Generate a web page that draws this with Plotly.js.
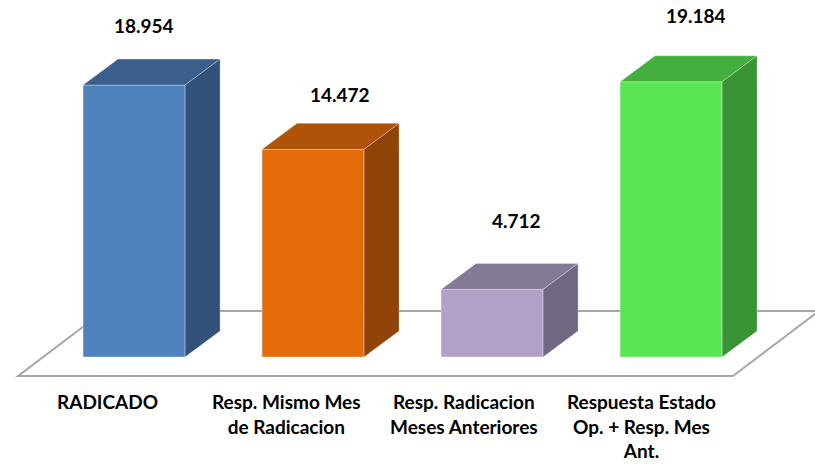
<!DOCTYPE html>
<html>
<head>
<meta charset="utf-8">
<script src="https://cdn.plot.ly/plotly-3.0.1.min.js"></script>
<style>
  html, body { margin: 0; padding: 0; background: #ffffff; }
  #chart { width: 815px; height: 464px; }
</style>
</head>
<body>
<div id="chart"></div>
<script>
// ---- data ----
const categories = ['RADICADO', 'Resp. Mismo Mes<br>de Radicacion', 'Resp. Radicacion<br>Meses Anteriores', 'Respuesta Estado<br>Op. + Resp. Mes<br>Ant.'];
const values = [18954, 14472, 4712, 19184];
const valueLabels = ['18.954', '14.472', '4.712', '19.184'];

// ---- styles ----
const frontColors = ['#4f81bd', '#e46c0a', '#b2a1c7', '#59e654'];
const topColors   = ['#3b5f8c', '#b05208', '#847a96', '#43b03d'];
const sideColors  = ['#335279', '#904407', '#716780', '#3a9434'];
const barWidth = 0.57;      // category units
const depthX = 0.1955;      // category units
const depthY = 1812;        // value units
const labelDx = [10, 27, 24, 25];     // px
const labelDy = [60, 55, 69, 66];     // px
const catDx = [-27, -27, -28, -30];   // px
const floor = { xFL: -0.648, xFR: 3.346, xBL: -0.168, xBR: 3.826, yF: -1324, yB: 3206 };

const xs = categories.map((c, i) => i);
const traces = [];

traces.push({
  type: 'bar', x: xs, y: values, width: barWidth,
  marker: { color: frontColors, line: { color: 'rgba(255,255,255,0.35)', width: 1 } },
  hoverinfo: 'skip'
});

xs.forEach((x, i) => {
  const v = values[i];
  const l = x - barWidth / 2, r = x + barWidth / 2;
  // top face
  traces.push({
    type: 'scatter', mode: 'lines', fill: 'toself',
    x: [l, r, r + depthX, l + depthX, l],
    y: [v, v, v + depthY, v + depthY, v],
    fillcolor: topColors[i], line: { color: 'rgba(255,255,255,0.3)', width: 1 },
    hoverinfo: 'skip'
  });
  // side face
  traces.push({
    type: 'scatter', mode: 'lines', fill: 'toself',
    x: [r, r + depthX, r + depthX, r, r],
    y: [0, depthY, v + depthY, v, 0],
    fillcolor: sideColors[i], line: { color: 'rgba(255,255,255,0.3)', width: 1 },
    hoverinfo: 'skip'
  });
});

const annotations = [];
xs.forEach((x, i) => {
  annotations.push({
    x: x, y: values[i], xref: 'x', yref: 'y',
    text: '<b>' + valueLabels[i] + '</b>', showarrow: false,
    xshift: labelDx[i], yshift: labelDy[i], yanchor: 'middle',
    font: { family: 'Lato, "Open Sans", sans-serif', size: 19, color: '#000000' }
  });
  annotations.push({
    x: x, y: floor.yF, xref: 'x', yref: 'y',
    text: '<b>' + categories[i] + '</b>', showarrow: false,
    xshift: catDx[i], yshift: -12, yanchor: 'top', align: 'center',
    font: { family: 'Lato, "Open Sans", sans-serif', size: 19, color: '#000000' }
  });
});

const layout = {
  width: 815, height: 464,
  margin: { l: 0, r: 0, t: 0, b: 84 },
  paper_bgcolor: '#ffffff', plot_bgcolor: '#ffffff',
  showlegend: false,
  xaxis: { range: [-0.749, 3.804], visible: false, fixedrange: true },
  yaxis: { range: [-1603, 24883], visible: false, fixedrange: true },
  shapes: [{
    type: 'path', xref: 'x', yref: 'y', layer: 'below',
    path: 'M ' + floor.xFL + ' ' + floor.yF + ' L ' + floor.xFR + ' ' + floor.yF +
          ' L ' + floor.xBR + ' ' + floor.yB + ' L ' + floor.xBL + ' ' + floor.yB + ' Z',
    line: { color: '#a6a6a6', width: 2 }, fillcolor: 'rgba(0,0,0,0)'
  }],
  annotations: annotations
};

Plotly.newPlot('chart', traces, layout, { displayModeBar: false, staticPlot: true });
</script>
</body>
</html>
